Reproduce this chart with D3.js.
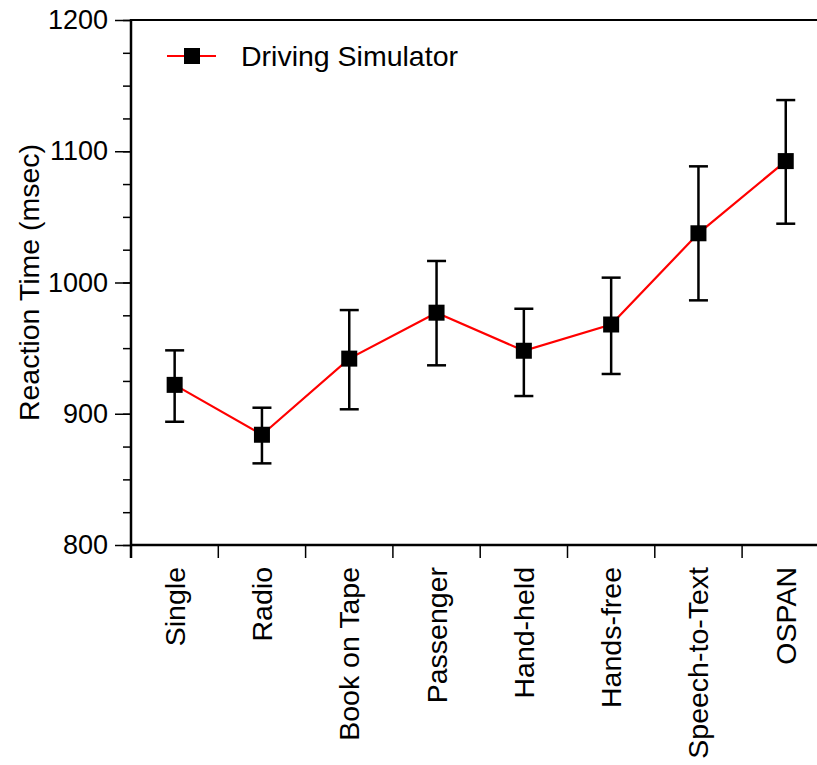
<!DOCTYPE html>
<html>
<head>
<meta charset="utf-8">
<script src="https://cdn.jsdelivr.net/npm/d3@7"></script>
<style>
  body { margin: 0; background: #fff; }
  svg text { font-family: "Liberation Sans", Arial, Helvetica, sans-serif; fill: #000; }
</style>
</head>
<body>
<script>
const categories = ["Single", "Radio", "Book on Tape", "Passenger", "Hand-held", "Hands-free", "Speech-to-Text", "OSPAN"];
const meanRT  = [922, 884, 942, 977, 948, 968, 1037.5, 1092.5];
const upperRT = [948.3, 904.6, 979, 1016.4, 980, 1003.7, 1088.5, 1139];
const lowerRT = [893.9, 862.2, 903.4, 936.9, 913.5, 930.3, 986.4, 1044.8];
const yTicks = [800, 900, 1000, 1100, 1200];
const seriesName = "Driving Simulator";

const width = 817, height = 765;
const marginLeft = 131, marginTop = 20, plotH = 525, bandW = 87.3;
const fs = 28.5, tickFs = 27;

const svg = d3.select("body").append("svg")
    .attr("width", width)
    .attr("height", height);

const x = d3.scaleBand()
    .domain(categories)
    .range([marginLeft, marginLeft + bandW * categories.length])
    .padding(0);

const y = d3.scaleLinear()
    .domain([800, 1200])
    .range([marginTop + plotH, marginTop]);

// top frame line
svg.append("line")
    .attr("x1", marginLeft).attr("x2", width)
    .attr("y1", y(1200)).attr("y2", y(1200))
    .attr("stroke", "#000").attr("stroke-width", 2);

// minor y ticks
svg.append("g")
    .attr("transform", `translate(${marginLeft},0)`)
    .call(d3.axisLeft(y).tickValues(d3.range(800, 1201, 25)).tickSize(8).tickFormat(""))
    .call(g => g.select(".domain").remove())
    .call(g => g.selectAll("line").attr("stroke-width", 1.5));

// major y ticks + labels
svg.append("g")
    .attr("transform", `translate(${marginLeft},0)`)
    .call(d3.axisLeft(y).tickValues(yTicks).tickSize(16).tickPadding(7).tickFormat(d3.format("d")))
    .call(g => g.select(".domain").remove())
    .call(g => g.selectAll("line").attr("stroke-width", 1.5))
    .call(g => g.selectAll("text").attr("font-size", tickFs).style("font-family", "Liberation Sans, Arial, sans-serif"));

// y axis line (runs down past the x axis like the category ticks)
svg.append("line")
    .attr("x1", marginLeft).attr("x2", marginLeft)
    .attr("y1", marginTop - 1).attr("y2", marginTop + plotH + 13)
    .attr("stroke", "#000").attr("stroke-width", 2.5);

// x axis line
svg.append("line")
    .attr("x1", marginLeft).attr("x2", width)
    .attr("y1", y(800)).attr("y2", y(800))
    .attr("stroke", "#000").attr("stroke-width", 2.5);

// category boundary ticks
svg.append("g").selectAll("line")
    .data(categories)
    .join("line")
    .attr("x1", d => x(d) + x.bandwidth())
    .attr("x2", d => x(d) + x.bandwidth())
    .attr("y1", y(800))
    .attr("y2", y(800) + 13)
    .attr("stroke", "#000").attr("stroke-width", 1.5);

// category labels
svg.append("g").selectAll("text")
    .data(categories)
    .join("text")
    .attr("transform", d => `translate(${x(d) + x.bandwidth() / 2},${y(800) + 22}) rotate(-90)`)
    .attr("text-anchor", "end")
    .attr("dy", "0.35em")
    .attr("font-size", fs)
    .text(d => d);

// y axis title
svg.append("text")
    .attr("transform", `translate(29,${marginTop + plotH / 2}) rotate(-90)`)
    .attr("text-anchor", "middle")
    .attr("dy", "0.35em")
    .attr("font-size", fs)
    .text("Reaction Time (msec)");

const cx = (d, i) => x(categories[i]) + x.bandwidth() / 2;

// connecting line
svg.append("path")
    .datum(meanRT)
    .attr("fill", "none")
    .attr("stroke", "#ff0000")
    .attr("stroke-width", 2.2)
    .attr("d", d3.line().x(cx).y(d => y(d)));

// error bars
const err = svg.append("g").attr("stroke", "#000").attr("stroke-width", 2.5);
meanRT.forEach((m, i) => {
    const xc = cx(m, i);
    err.append("line").attr("x1", xc).attr("x2", xc).attr("y1", y(upperRT[i])).attr("y2", y(lowerRT[i]));
    err.append("line").attr("x1", xc - 9.5).attr("x2", xc + 9.5).attr("y1", y(upperRT[i])).attr("y2", y(upperRT[i]));
    err.append("line").attr("x1", xc - 9.5).attr("x2", xc + 9.5).attr("y1", y(lowerRT[i])).attr("y2", y(lowerRT[i]));
});

// markers
svg.append("g").selectAll("rect")
    .data(meanRT)
    .join("rect")
    .attr("x", (d, i) => cx(d, i) - 8)
    .attr("y", d => y(d) - 8)
    .attr("width", 16)
    .attr("height", 16)
    .attr("fill", "#000");

// legend
const lg = svg.append("g").attr("transform", "translate(167,56)");
lg.append("line").attr("x1", 0).attr("x2", 49).attr("y1", 0).attr("y2", 0)
    .attr("stroke", "#ff0000").attr("stroke-width", 2.2);
lg.append("rect").attr("x", 17).attr("y", -8).attr("width", 16).attr("height", 16).attr("fill", "#000");
lg.append("text").attr("x", 74).attr("dy", "0.35em").attr("font-size", fs).text(seriesName);
</script>
</body>
</html>
